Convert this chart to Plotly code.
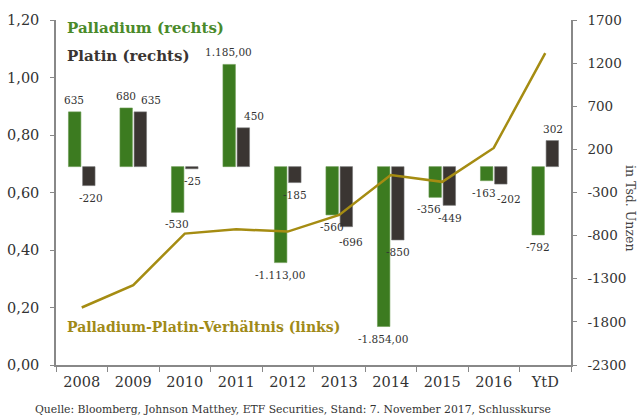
import plotly.graph_objects as go

years = ["2008", "2009", "2010", "2011", "2012", "2013", "2014", "2015", "2016", "YtD"]
palladium = [635, 680, -530, 1185, -1113, -560, -1854, -356, -163, -792]
platin = [-220, 635, -25, 450, -185, -696, -850, -449, -202, 302]
ratio = [0.20, 0.278, 0.457, 0.472, 0.464, 0.522, 0.661, 0.637, 0.755, 1.085]

left_ticks = [0, 0.2, 0.4, 0.6, 0.8, 1.0, 1.2]
left_labels = ["0,00", "0,20", "0,40", "0,60", "0,80", "1,00", "1,20"]
right_ticks = [-2300, -1800, -1300, -800, -300, 200, 700, 1200, 1700]
right_labels = ["-2300", "-1800", "-1300", "-800", "-300", "200", "700", "1200", "1700"]

# label nudges (pixels) so that value labels sit like in the original
pal_label_dx = [0, 0, 0, 0, 0, 0, 0, -6, -2, 0]
plat_label_dx = [2, 10, 0, 10, 0, 4, 0, 0, 8, 0]
plat_label_dy = [0, 0, 0, 0, 0, 3, 0, 1, 3, 0]


def fmt(v):
    if abs(v) >= 1000:
        s = f"{abs(v):,.2f}".replace(",", "X").replace(".", ",").replace("X", ".")
        return ("-" if v < 0 else "") + s
    return str(v)


GREEN = "#3c7b20"
DARK = "#3a3532"
GOLD = "#a58c12"
FONT = "DejaVu Serif"
W, H = 641, 418
L, R, T, B = 56, 70, 20, 53
pw, ph = W - L - R, H - T - B

fig = go.Figure()
fig.add_trace(go.Bar(
    x=years, y=palladium, yaxis="y",
    marker=dict(color=GREEN, line=dict(width=0.6, color="#6a9a50")), name="Palladium",
))
fig.add_trace(go.Bar(
    x=years, y=platin, yaxis="y",
    marker=dict(color=DARK, line=dict(width=0.6, color="#777777")), name="Platin",
))
fig.add_trace(go.Scatter(
    x=years, y=ratio, yaxis="y2", mode="lines", line=dict(color=GOLD, width=2.5),
    name="Verhältnis",
))

fig.update_layout(
    width=W, height=H,
    margin=dict(l=L, r=R, t=T, b=B),
    paper_bgcolor="white", plot_bgcolor="white",
    showlegend=False,
    barmode="group", bargap=0.45, bargroupgap=0.12,
    font=dict(family=FONT, color="#333333"),
    xaxis=dict(
        type="category", categoryorder="array", categoryarray=years,
        range=[-0.5, len(years) - 0.5],
        tickson="boundaries", ticks="outside", ticklen=5,
        tickcolor="#888888", showline=True, linecolor="#888888", linewidth=1.5,
        showgrid=False, tickfont=dict(family=FONT, size=14.5, color="#333333"),
        automargin=False, ticklabelstandoff=3,
    ),
    yaxis=dict(
        side="right", range=[-2300, 1700], tickvals=right_ticks, ticktext=right_labels,
        ticks="outside", ticklen=4, tickcolor="#888888", showline=True,
        linecolor="#888888", linewidth=1.5, showgrid=False, zeroline=False,
        tickfont=dict(family=FONT, size=13.5, color="#333333"),
        automargin=False, ticklabelstandoff=8,
    ),
    yaxis2=dict(
        side="left", overlaying="y", range=[0, 1.2], tickvals=left_ticks,
        ticktext=left_labels, ticks="outside", ticklen=4, tickcolor="#888888",
        showline=True, linecolor="#888888", linewidth=1.5, showgrid=False,
        zeroline=False, tickfont=dict(family=FONT, size=14.5, color="#333333"),
        automargin=False, ticklabelstandoff=8,
    ),
)

# value labels (x given as category serial number)
for i, yr in enumerate(years):
    for vals, base_dx, dxs, dys in ((palladium, -7.5, pal_label_dx, [0] * len(years)),
                                    (platin, 7.5, plat_label_dx, plat_label_dy)):
        v = vals[i]
        up = v >= 0
        fig.add_annotation(
            x=i, y=v, xref="x", yref="y", text=fmt(v), showarrow=False,
            xshift=base_dx + dxs[i], yshift=(12 if up else -12 - dys[i]),
            xanchor="center", yanchor="middle",
            font=dict(family=FONT, size=10.5, color="#333333"),
        )

annots = [
    dict(text="<b>Palladium (rechts)</b>", px=65, py=28, color="#4a8a2a", size=15),
    dict(text="<b>Platin (rechts)</b>", px=65, py=56, color="#3a3532", size=15),
    dict(text="<b>Palladium-Platin-Verhältnis (links)</b>", px=65, py=327, color="#a08a18", size=14),
]
for a in annots:
    fig.add_annotation(
        x=(a["px"] - L) / pw, y=1 - (a["py"] - T) / ph, xref="paper", yref="paper",
        text=a["text"], showarrow=False, xanchor="left", yanchor="middle",
        font=dict(family=FONT, size=a["size"], color=a["color"]),
    )

fig.add_annotation(
    x=(631 - L) / pw, y=1 - (208 - T) / ph, xref="paper", yref="paper",
    text="in Tsd. Unzen", textangle=90, showarrow=False,
    xanchor="center", yanchor="middle",
    font=dict(family=FONT, size=12.5, color="#444444"),
)
fig.add_annotation(
    x=(33 - L) / pw, y=1 - (409 - T) / ph, xref="paper", yref="paper",
    text="Quelle: Bloomberg, Johnson Matthey, ETF Securities, Stand: 7. November 2017, Schlusskurse",
    showarrow=False, xanchor="left", yanchor="middle",
    font=dict(family=FONT, size=10.8, color="#333333"),
)

fig.write_html(
    "out.html",
    config={"displayModeBar": False},
    post_script="document.body.style.margin='0';document.body.style.overflow='hidden';",
)
